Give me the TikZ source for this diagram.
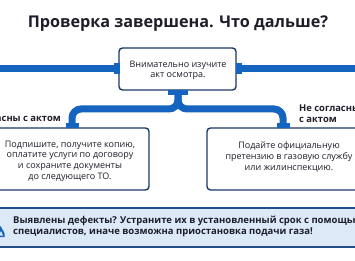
\documentclass[tikz,border=0pt]{standalone}
\usepackage{fontspec}
\setmainfont{Open Sans}
\definecolor{pipe}{HTML}{1565C0}
\definecolor{navy}{HTML}{1B3A66}
\definecolor{bannerfill}{HTML}{DCE9F7}
\definecolor{bannerline}{HTML}{1F4E89}
\definecolor{ink}{HTML}{1E1E2A}
\begin{document}
\begin{tikzpicture}[x=1pt,y=-1pt,
  pipeline/.style={pipe,line width=7pt,line cap=butt,rounded corners=9pt},
  flange/.style={fill=pipe,draw=none},
  box/.style={draw=navy,line width=1.4pt,fill=white,rounded corners=3.5pt},
  boxtext/.style={font=\fontsize{9}{10.6}\selectfont,text=ink,align=center,inner sep=0pt},
  lbl/.style={font=\bfseries\fontsize{9.4}{10.8}\selectfont,text=ink,align=left,inner sep=0pt}]
\useasboundingbox (0,0) rectangle (355,261);
\clip (0,0) rectangle (355,261);
\fill[white] (0,0) rectangle (355,261);
% title
\node[font=\bfseries\fontsize{16.2}{18}\selectfont,text=ink,inner sep=0pt] (title) at (178,24) {Проверка завершена. Что дальше?};
% top box
\draw[box] (119,48) rectangle (236,90);
\coordinate (topL) at (119,69);
\coordinate (topR) at (236,69);
\coordinate (topB) at (178,90);
\node[boxtext] (toptext) at (178,70.5) {Внимательно изучите\\акт осмотра.};
% main horizontal pipe
\coordinate (farL) at (0,69);
\coordinate (farR) at (355,69);
\draw[pipe,line width=7pt] (farL) -- ++(114,0);
\draw[pipe,line width=7pt] (241,69) -- (farR);
\fill[pipe] (113.5,63.5) rectangle (119.5,74.5);
\fill[pipe] (235.5,63.5) rectangle (241.5,74.5);
% bottom boxes
\draw[box] (-10,128) rectangle (149,190);
\draw[box] (207,128) rectangle (365,190);
\coordinate (lTop) at (72,128);
\coordinate (rTop) at (283,128);
% branch pipes
\draw[pipeline] (72,124) -- (72,109) -- (178,109) -- (178,94);
\draw[pipeline] (283,124) -- (283,109) -- (178,109) -- (178,94);
\fill[pipe] (168,90.5) rectangle (188,95);
\fill[pipe] (65.5,123.5) rectangle (78.5,128.5);
\fill[pipe] (276.5,123.5) rectangle (289.5,128.5);
% labels
\node[lbl,anchor=east] (agree) at (61,118.5) {Согласны с актом};
\node[lbl,anchor=north west] (disagree) at (299,105) {Не согласны\\с актом};
% box texts
\node[boxtext] (ltext) at (70,161) {Подпишите, получите копию,\\оплатите услуги по договору\\и сохраните документы\\до следующего ТО.};
\node[boxtext] (rtext) at (289,157) {Подайте официальную\\претензию в газовую службу\\или жилинспекцию.};
% banner
\fill[bannerfill] (-5,208) rectangle (365,247);
\draw[bannerline,line width=1.5pt] (-5,208) -- (365,208);
\draw[bannerline,line width=1.5pt] (-5,247) -- (365,247);
\fill[pipe] (-6,237) -- (0.5,226) -- (4.5,233) -- (4.5,237) -- cycle;
\fill[bannerfill] (-1,235.5) -- (1,231) -- (3,235.5) -- cycle;
\node[lbl,anchor=west,font=\bfseries\fontsize{9.5}{10.4}\selectfont] (warn) at (13,226.5) {Выявлены дефекты? Устраните их в установленный срок с помощью\\специалистов, иначе возможна приостановка подачи газа!};
\end{tikzpicture}
\end{document}
